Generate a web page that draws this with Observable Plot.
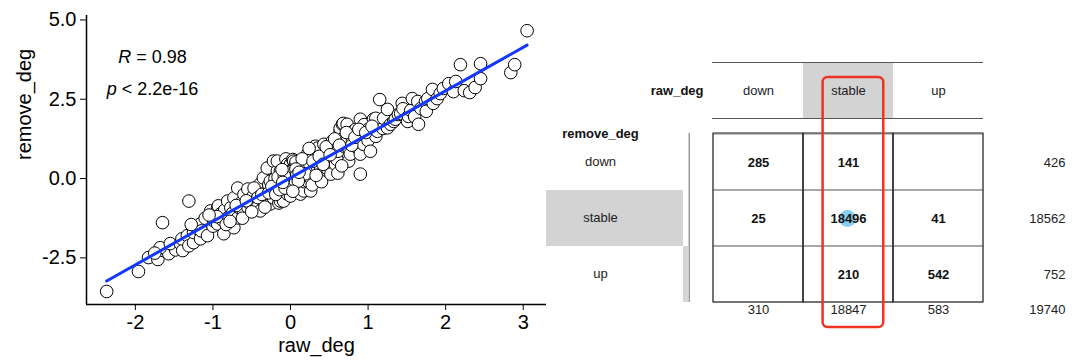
<!DOCTYPE html>
<html><head><meta charset="utf-8">
<script src="https://cdn.jsdelivr.net/npm/d3@7"></script>
<script src="https://cdn.jsdelivr.net/npm/@observablehq/plot@0.6"></script>
<style>
body{margin:0;background:#fff;}
#root{position:relative;width:1080px;height:361px;overflow:hidden;font-family:"Liberation Sans",Arial,sans-serif;}
#root svg{position:absolute;overflow:visible;max-width:none;}
</style></head><body><div id="root"></div>
<script>
// ---- scatter data ----
const rawDeg = [
-2.37,-1.96,-1.83,-1.71,-1.64,-1.57,-1.68,-1.75,-1.65,-1.51,
-1.48,-1.55,-1.42,-1.39,-1.40,-1.33,-1.31,-1.31,-1.25,-1.25,
-1.20,-1.16,-1.16,-1.15,-1.10,-1.07,-1.03,-1.00,-0.99,-0.94,
-0.94,-0.93,-0.90,-0.88,-0.86,-0.85,-0.81,-0.81,-0.77,-0.75,
-0.73,-0.73,-0.68,-0.68,-0.65,-0.64,-0.61,-0.60,-0.55,-0.55,
-0.52,-0.48,-0.45,-0.43,-0.40,-0.39,-0.39,-0.35,-0.35,-0.30,
-0.30,-0.30,-0.28,-0.26,-0.26,-0.22,-0.22,-0.22,-0.20,-0.18,
-0.17,-0.17,-0.15,-0.13,-0.13,-0.13,-0.12,-0.10,-0.09,-0.08,
-0.06,-0.06,-0.05,-0.05,-0.04,-0.04,-0.04,-0.03,-0.02,-0.02,
-0.01,0.00,0.00,0.00,0.00,0.00,0.00,0.01,0.02,0.02,
0.03,0.03,0.03,0.04,0.04,0.05,0.05,0.06,0.07,0.08,
0.09,0.09,0.10,0.12,0.13,0.13,0.15,0.17,0.17,0.18,
0.20,0.22,0.22,0.25,0.26,0.26,0.26,0.28,0.30,0.32,
0.35,0.35,0.39,0.39,0.39,0.40,0.43,0.45,0.48,0.48,
0.50,0.52,0.54,0.55,0.58,0.60,0.61,0.61,0.64,0.64,
0.67,0.68,0.68,0.70,0.73,0.73,0.75,0.75,0.77,0.80,
0.81,0.84,0.85,0.90,0.90,0.90,0.94,0.94,0.95,1.00,
1.00,1.03,1.07,1.10,1.10,1.12,1.15,1.19,1.20,1.25,
1.25,1.29,1.33,1.35,1.39,1.42,1.44,1.45,1.51,1.52,
1.55,1.57,1.60,1.64,1.65,1.68,1.74,1.75,1.77,1.83,
1.84,1.89,1.93,1.97,2.04,2.10,2.13,2.19,2.24,2.31,
2.38,2.45,2.45,2.84,2.89,3.05,
-0.95,-0.83,-0.70,-0.62,-0.57,-0.50,-0.47,-0.42,-0.37,-0.33,
-0.28,-0.24,-0.19,-0.16,-0.14,-1.28,-1.05,-0.78,
0.15,0.19,0.24,0.29,0.33,0.37,0.42,0.46,0.51,0.57,
0.63,0.66,0.72,0.79,0.83,0.88,0.97,1.05,
0.00,0.01,-0.01,0.02,-0.02,0.01,0.00,-0.01,0.02,-0.03,
0.03,0.00,0.01,-0.02,0.02,0.04,-0.04,0.05,-0.05,0.06,
-0.06,0.07,-0.07,0.08,-0.08,0.10,-0.10,0.11,-0.11,0.03];
const removeDeg = [
-3.56,-2.93,-2.49,-2.55,-2.27,-2.37,-2.18,-2.35,-1.39,-2.12,
-2.25,-2.05,-2.05,-2.27,-1.90,-1.80,-2.12,-0.71,-2.02,-1.70,
-1.58,-1.90,-1.43,-1.65,-1.25,-1.80,-1.02,-1.50,-1.33,-0.92,
-1.43,-0.86,-1.11,-1.30,-1.74,-1.00,-1.24,-0.71,-0.92,-1.10,
-1.55,-0.61,-1.24,-0.30,-0.95,-0.77,-1.02,-0.50,-0.90,-0.33,
-0.80,-0.55,-0.70,-0.92,-0.40,-1.02,-0.17,-0.71,0.02,-0.39,
-0.61,0.33,-0.20,-0.08,-0.80,-0.61,-0.39,0.55,0.00,-0.25,
0.24,0.55,-0.77,-0.17,-0.71,0.24,-0.45,0.10,-0.71,-0.25,
0.02,0.62,0.35,0.15,0.45,-0.49,-0.10,-0.35,0.05,0.30,
-0.20,0.17,-0.39,-0.55,0.33,0.00,0.45,0.20,-0.15,0.10,
-0.08,0.60,-0.30,0.55,0.00,0.25,-0.10,0.40,0.52,-0.05,
-0.30,0.14,0.30,-0.20,0.14,-0.49,0.05,-0.39,0.45,-0.10,
0.30,-0.08,0.77,0.45,0.02,-0.39,0.77,-0.20,0.24,1.02,
0.35,0.96,0.33,0.14,0.55,-0.10,1.08,0.65,0.30,0.80,
0.50,0.14,1.18,0.90,0.45,0.60,0.17,0.86,1.49,1.58,
1.71,1.27,1.74,1.00,1.18,1.71,0.55,0.95,0.77,1.20,
1.49,1.55,1.00,0.14,0.77,1.87,1.08,1.39,1.70,1.20,
1.55,0.86,1.87,1.33,1.90,1.49,2.49,1.58,1.90,2.18,
1.60,1.71,1.80,1.87,2.02,2.05,2.37,2.20,1.80,1.96,
2.15,2.52,1.95,2.43,1.71,2.21,2.43,2.12,2.52,2.81,
2.37,2.52,2.68,2.84,2.99,2.74,3.06,3.59,2.77,2.71,
2.87,3.15,3.62,3.34,3.59,4.66,
-1.20,-1.45,-0.85,-1.25,-0.70,-1.05,-0.30,-0.60,-0.50,-0.90,
-0.45,-0.25,-0.50,0.05,-0.35,-1.45,-1.15,-1.35,
0.62,0.15,0.95,0.55,0.10,0.70,0.45,1.00,0.75,1.25,
1.05,0.40,1.45,1.05,1.30,1.55,1.45,1.65,
-0.05,-0.02,0.03,0.06,-0.08,0.09,0.12,-0.12,-0.18,0.14,
0.18,-0.25,0.26,0.22,-0.22,-0.04,0.04,0.08,-0.05,-0.15,
0.20,0.30,-0.30,0.10,0.08,-0.08,-0.12,0.20,0.28,-0.40];
const corLabels = ["R = 0.98", "p < 2.2e-16"];
const xTicks = [-2, -1, 0, 1, 2, 3];
const yTicks = [-2.5, 0, 2.5, 5];

// ---- contingency table data ----
const rawLevels = ["down", "stable", "up"];
const removeLevels = ["down", "stable", "up"];
const counts = [[285, 141, 0], [25, 18496, 41], [0, 210, 542]]; // rows: remove_deg, cols: raw_deg
const rowTotals = [426, 18562, 752];
const colTotals = [310, 18847, 583];
const grandTotal = [19740];

const FONT = "'Liberation Sans', Arial, sans-serif";
const root = document.getElementById("root");
function place(svg, left, top) { svg.style.left = left + "px"; svg.style.top = top + "px"; root.appendChild(svg); }

// ---- scatter ----
const pts = rawDeg.map((x, i) => ({raw: x, remove: removeDeg[i]}));
const xDom = [-2.63, 3.30], yDom = [-3.97, 5.14];
const scatter = Plot.plot({
  width: 550, height: 361, marginLeft: 86, marginRight: 4, marginTop: 15, marginBottom: 57,
  style: {fontFamily: FONT, fontSize: "20px", color: "#000", background: "transparent"},
  x: {domain: xDom, ticks: xTicks, tickFormat: d => String(d), tickSize: 6, tickPadding: 4, label: null},
  y: {domain: yDom, ticks: yTicks, tickFormat: d => d.toFixed(1), tickSize: 6, tickPadding: 4, label: null},
  marks: [
    Plot.ruleX([xDom[0]], {stroke: "#000", strokeWidth: 1.5}),
    Plot.ruleY([yDom[0]], {stroke: "#000", strokeWidth: 1.5}),
    Plot.dot(pts, {x: "raw", y: "remove", r: 6.3, fill: "white", stroke: "black", strokeWidth: 1}),
    Plot.linearRegressionY(pts, {x: "raw", y: "remove", stroke: "#1238ff", strokeWidth: 3, ci: 0}),
    Plot.text(corLabels, {x: () => -1.78, y: (d, i) => [3.81, 2.81][i], text: d => d, fontSize: 18, fill: "#000"}),
    Plot.text(["raw_deg"], {frameAnchor: "bottom", dy: 47, text: d => d, fontSize: 20, fill: "#000"}),
    Plot.text(["remove_deg"], {frameAnchor: "left", dx: -62, rotate: -90, text: d => d, fontSize: 20, fill: "#000"})
  ]
});
scatter.querySelectorAll("text").forEach(t => {
  const s = t.textContent;
  if (corLabels.includes(s)) {
    t.textContent = "";
    const a = document.createElementNS("http://www.w3.org/2000/svg", "tspan");
    a.setAttribute("font-style", "italic"); a.textContent = s[0];
    const b = document.createElementNS("http://www.w3.org/2000/svg", "tspan");
    b.textContent = s.slice(1);
    t.append(a, b);
  }
});
place(scatter, 0, 0);

// ---- row labels panel ----
const rowPanel = Plot.plot({
  width: 146, height: 361, marginLeft: 0, marginRight: 2, marginTop: 133, marginBottom: 59,
  style: {fontFamily: FONT, fontSize: "13px", background: "transparent"},
  x: {type: "band", domain: ["remove_deg"], axis: null, padding: 0},
  y: {type: "band", domain: removeLevels, axis: null, padding: 0},
  marks: [
    Plot.cell(["stable"], {x: () => "remove_deg", y: d => d, fill: "#d3d3d3", insetRight: 7}),
    Plot.cell(["up"], {x: () => "remove_deg", y: d => d, fill: "#d6d6d6", insetLeft: 137, insetRight: 2}),
    Plot.cell(["remove_deg"], {x: d => d, fill: "#9a9a9a", insetLeft: 142.5}),
    Plot.text(removeLevels, {x: () => "remove_deg", y: d => d, text: d => d, dx: -18, dy: -1, fontSize: 13, fill: "#222"}),
    Plot.text(["remove_deg"], {x: d => d, frameAnchor: "top", dy: -5, dx: -18, text: d => d, fontSize: 13, fontWeight: "bold", fill: "#111"})
  ]
});
place(rowPanel, 546, 0);

// ---- header (raw_deg) ----
const header = Plot.plot({
  width: 290, height: 60, marginLeft: 12, marginRight: 7, marginTop: 2, marginBottom: 2,
  style: {fontFamily: FONT, fontSize: "13px", background: "transparent"},
  x: {type: "band", domain: rawLevels, axis: null, padding: 0},
  y: {domain: [0, 1], axis: null},
  marks: [
    Plot.cell(["stable"], {x: d => d, fill: "#d3d3d3"}),
    Plot.ruleY([0, 1], {stroke: "#555"}),
    Plot.text(rawLevels, {x: d => d, text: d => d, fontSize: 13, fill: "#222"}),
    Plot.text(["raw_deg"], {frameAnchor: "left", dx: -9, textAnchor: "end", text: d => d, fontSize: 13, fontWeight: "bold", fill: "#111"})
  ]
});
place(header, 700, 60);

// ---- table ----
const cells = [];
removeLevels.forEach((r, i) => rawLevels.forEach((c, j) => cells.push({remove: r, raw: c, count: counts[i][j]})));
const table = Plot.plot({
  width: 380, height: 361, marginLeft: 12, marginRight: 6.5, marginTop: 133, marginBottom: 59,
  style: {fontFamily: FONT, fontSize: "13px", background: "transparent"},
  x: {type: "band", domain: [...rawLevels, "total"], axis: null, padding: 0},
  y: {type: "band", domain: removeLevels, axis: null, padding: 0},
  r: {range: [0, 8.5]},
  marks: [
    Plot.cell(cells, {x: "raw", y: "remove", fill: "none", stroke: "#8a8a8a"}),
    Plot.cell(rawLevels, {x: d => d, fill: "none", stroke: "#222"}),
    Plot.dot(cells, {x: "raw", y: "remove", r: "count", fill: "#87ceeb", dx: -1}),
    Plot.text(cells.filter(d => d.count > 0), {x: "raw", y: "remove", text: d => String(d.count), fontWeight: "bold", fontSize: 13, fill: "#111"}),
    Plot.text(rowTotals, {x: () => "total", y: (d, i) => removeLevels[i], text: d => String(d), textAnchor: "end", dx: 37, fontSize: 13, fill: "#222"}),
    Plot.text(colTotals, {x: (d, i) => rawLevels[i], frameAnchor: "bottom", dy: 11, text: d => String(d), fontSize: 13, fill: "#222"}),
    Plot.text(grandTotal, {x: () => "total", frameAnchor: "bottom", dy: 11, textAnchor: "end", dx: 37, text: d => String(d), fontSize: 13, fill: "#222"}),
    Plot.cell(["stable"], {x: d => d, fill: "none", stroke: "#ee3322", strokeWidth: 2.5, rx: 5,
      insetLeft: 19.6, insetRight: 9.75, insetTop: -56, insetBottom: -25})
  ]
});
place(table, 700, 0);
</script>
</body></html>
